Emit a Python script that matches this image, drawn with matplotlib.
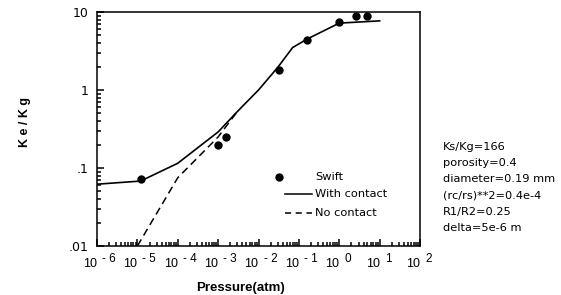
import matplotlib
matplotlib.use("Agg")
import matplotlib.pyplot as plt
from matplotlib.ticker import LogLocator, NullFormatter
from matplotlib.lines import Line2D

plt.rcParams['font.family'] = ['Liberation Sans', 'DejaVu Sans']

# Swift data
swift_p = [1.2e-5, 1.0e-3, 1.6e-3, 3.2e-2, 0.16, 1.0, 2.6, 4.8]
swift_k = [0.072, 0.197, 0.25, 1.8, 4.4, 7.4, 8.9, 8.9]

# With contact model
with_p = [1e-6, 1.2e-5, 1e-4, 1e-3, 3e-3, 1e-2, 3e-2, 7e-2, 0.16, 1.0, 10.0]
with_k = [0.062, 0.068, 0.115, 0.29, 0.53, 1.0, 1.95, 3.5, 4.5, 7.2, 7.7]

# No contact model
no_p = [1e-5, 1e-4, 1e-3, 3e-3]
no_k = [0.01, 0.075, 0.25, 0.53]

yticks = [0.01, 0.1, 1, 10]
ytick_labels = ['.01', '.1', '1', '10']
xticks = [1e-6, 1e-5, 1e-4, 1e-3, 1e-2, 1e-1, 1e0, 1e1, 1e2]
xtick_exponents = ['- 6', '- 5', '- 4', '- 3', '- 2', '- 1', '0', '1', '2']

legend_labels = ['Swift', 'With contact', 'No contact']
params_text = ["Ks/Kg=166", "porosity=0.4", "diameter=0.19 mm", "(rc/rs)**2=0.4e-4",
               "R1/R2=0.25", "delta=5e-6 m"]

W, H = 561, 295
fig = plt.figure(figsize=(W/100, H/100), dpi=100)
AX_L, AX_R, AX_T, AX_B = 97, 420, 12, 246
ax = fig.add_axes([AX_L/W, 1-AX_B/H, (AX_R-AX_L)/W, (AX_B-AX_T)/H])

ax.plot(no_p, no_k, color='black', lw=1.1, ls=(0, (5, 3)))
ax.plot(with_p, with_k, color='black', lw=1.2)
ax.plot(swift_p, swift_k, 'o', color='black', ms=5)

ax.set_xscale('log')
ax.set_yscale('log')
ax.set_xlim(1e-6, 1e2)
ax.set_ylim(0.01, 10)
ax.set_xticks(xticks)
ax.set_xticklabels([''] * len(xticks))
ax.set_yticks(yticks)
ax.set_yticklabels(ytick_labels, fontfamily='DejaVu Sans')
ax.xaxis.set_minor_locator(LogLocator(base=10, subs=range(2, 10), numticks=20))
ax.yaxis.set_minor_locator(LogLocator(base=10, subs=range(2, 10), numticks=20))
ax.xaxis.set_minor_formatter(NullFormatter())
ax.yaxis.set_minor_formatter(NullFormatter())
ax.tick_params(which='both', direction='in', top=False, right=False, labelsize=9, width=1.1)
ax.tick_params(which='major', length=5)
ax.tick_params(which='minor', length=3)
ax.tick_params(axis='y', pad=6)
for s in ax.spines.values():
    s.set_linewidth(1.1)

# x tick labels as "10" with raised exponent
for xv, ex in zip(xticks, xtick_exponents):
    ax.annotate('10', xy=(xv, 0), xycoords=('data', 'axes fraction'),
                xytext=(0, -21), textcoords='offset pixels', ha='right', va='baseline',
                fontsize=9, annotation_clip=False)
    ax.annotate(ex, xy=(xv, 0), xycoords=('data', 'axes fraction'),
                xytext=(5, -16), textcoords='offset pixels', ha='left', va='baseline',
                fontsize=8.5, annotation_clip=False)

ax.set_xlabel('Pressure(atm)', fontsize=9.5, fontweight='bold')
ax.xaxis.set_label_coords((240-AX_L)/(AX_R-AX_L), -(288-AX_B)/(AX_B-AX_T))
ax.xaxis.label.set_va('center')
ax.set_ylabel('K e / K g', fontsize=9, fontweight='bold')
ax.yaxis.set_label_coords(-(AX_L-25)/(AX_R-AX_L), (AX_B-122)/(AX_B-AX_T))
ax.yaxis.label.set_va('center')

# manual legend (figure pixel positions)
def fx(px):
    return px / W
def fy(py):
    return 1 - py / H
leg_rows = [176.5, 194, 213]
fig.add_artist(Line2D([fx(279)], [fy(leg_rows[0])], marker='o', ls='none', color='black', ms=5,
                      transform=fig.transFigure))
fig.add_artist(Line2D([fx(285), fx(312)], [fy(leg_rows[1])] * 2, color='black', lw=1.1,
                      transform=fig.transFigure))
fig.add_artist(Line2D([fx(285), fx(312)], [fy(leg_rows[2])] * 2, color='black', lw=1.1,
                      ls=(0, (4, 3)), transform=fig.transFigure))
for lab, ry in zip(legend_labels, leg_rows):
    fig.text(fx(315), fy(ry), lab, fontsize=8.2, fontfamily='DejaVu Sans',
             va='center', ha='left')

for i, t in enumerate(params_text):
    fig.text(fx(443), fy(147 + i*16.2), t, fontsize=8.2, fontfamily='DejaVu Sans',
             va='center', ha='left')

fig.savefig('out.png', dpi=100)
